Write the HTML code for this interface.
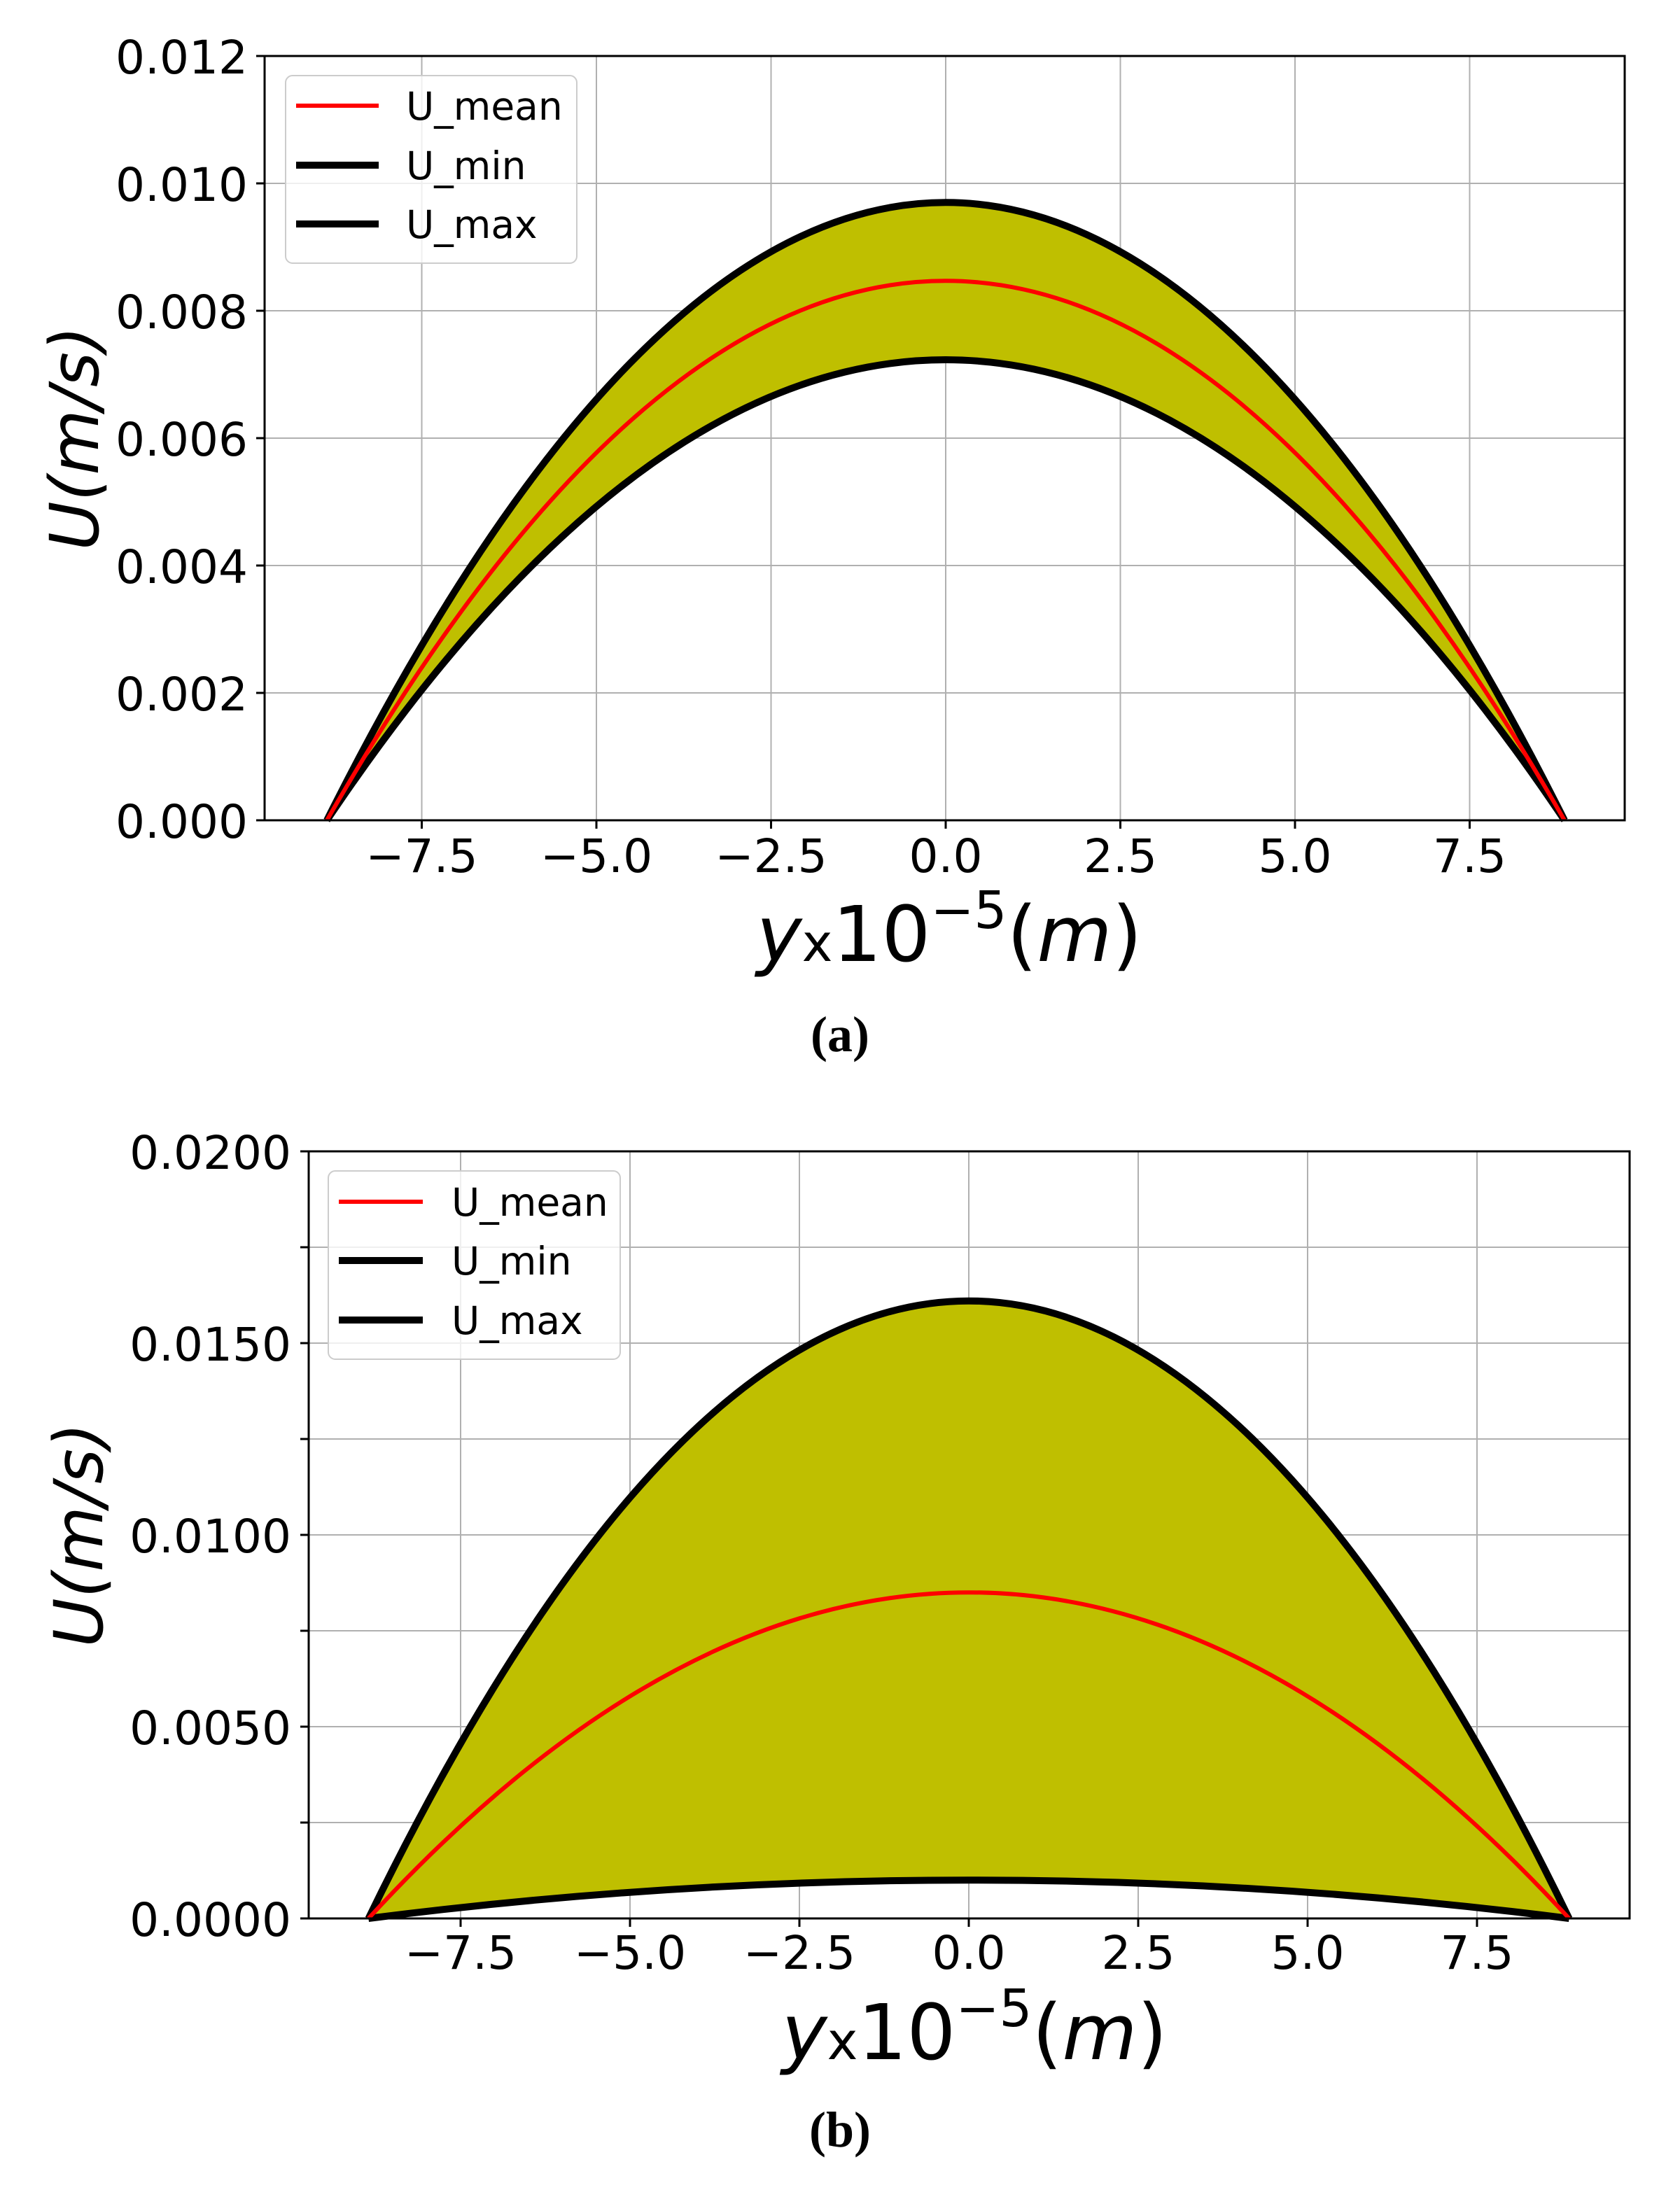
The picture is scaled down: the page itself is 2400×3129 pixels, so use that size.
<!DOCTYPE html>
<html><head><style>body{margin:0;background:#fff}svg{display:block}</style></head>
<body>
<svg width="2400" height="3129" viewBox="0 0 2400 3129" xmlns="http://www.w3.org/2000/svg" font-family="DejaVu Sans, Liberation Sans, sans-serif">
<rect width="2400" height="3129" fill="#fff"/>
<!-- TOP PANEL -->
<g stroke="#b0b0b0" stroke-width="2">
<line x1="602.5" y1="80" x2="602.5" y2="1172"/><line x1="852" y1="80" x2="852" y2="1172"/><line x1="1101.5" y1="80" x2="1101.5" y2="1172"/><line x1="1351" y1="80" x2="1351" y2="1172"/><line x1="1600.5" y1="80" x2="1600.5" y2="1172"/><line x1="1850" y1="80" x2="1850" y2="1172"/><line x1="2099.5" y1="80" x2="2099.5" y2="1172"/>
<line x1="378" y1="990" x2="2321" y2="990"/><line x1="378" y1="808" x2="2321" y2="808"/><line x1="378" y1="626" x2="2321" y2="626"/><line x1="378" y1="444" x2="2321" y2="444"/><line x1="378" y1="262" x2="2321" y2="262"/>
</g>
<path d="M467,1172 Q1351,-593.4 2235,1172 Q1351,-143.9 467,1172 Z" fill="#bfbf00"/>
<path d="M467,1172 Q1351,-593.4 2235,1172" fill="none" stroke="#000" stroke-width="10"/>
<path d="M467,1172 Q1351,-143.9 2235,1172" fill="none" stroke="#000" stroke-width="10"/>
<path d="M467,1172 Q1351,-369.5 2235,1172" fill="none" stroke="#f00" stroke-width="6"/>
<rect x="378" y="80" width="1943" height="1092" fill="none" stroke="#000" stroke-width="3"/>
<g stroke="#000" stroke-width="3">
<line x1="366" y1="80" x2="378" y2="80"/><line x1="366" y1="262" x2="378" y2="262"/><line x1="366" y1="444" x2="378" y2="444"/><line x1="366" y1="626" x2="378" y2="626"/><line x1="366" y1="808" x2="378" y2="808"/><line x1="366" y1="990" x2="378" y2="990"/><line x1="366" y1="1172" x2="378" y2="1172"/>
<line x1="602.5" y1="1172" x2="602.5" y2="1184"/><line x1="852" y1="1172" x2="852" y2="1184"/><line x1="1101.5" y1="1172" x2="1101.5" y2="1184"/><line x1="1351" y1="1172" x2="1351" y2="1184"/><line x1="1600.5" y1="1172" x2="1600.5" y2="1184"/><line x1="1850" y1="1172" x2="1850" y2="1184"/><line x1="2099.5" y1="1172" x2="2099.5" y2="1184"/>
</g>
<g font-size="66" text-anchor="end">
<text x="354" y="105">0.012</text><text x="354" y="287">0.010</text><text x="354" y="469">0.008</text><text x="354" y="651">0.006</text><text x="354" y="833">0.004</text><text x="354" y="1015">0.002</text><text x="354" y="1197">0.000</text>
</g>
<g font-size="66" text-anchor="middle">
<text x="602.5" y="1246">−7.5</text><text x="852" y="1246">−5.0</text><text x="1101.5" y="1246">−2.5</text><text x="1351" y="1246">0.0</text><text x="1600.5" y="1246">2.5</text><text x="1850" y="1246">5.0</text><text x="2099.5" y="1246">7.5</text>
</g>
<rect x="408" y="108" width="416" height="268" rx="10" fill="#fff" fill-opacity="0.8" stroke="#ccc" stroke-width="2"/>
<line x1="423" y1="151" x2="541" y2="151" stroke="#f00" stroke-width="6"/>
<line x1="423" y1="236" x2="541" y2="236" stroke="#000" stroke-width="10"/>
<line x1="423" y1="320" x2="541" y2="320" stroke="#000" stroke-width="10"/>
<g font-size="55"><text x="580" y="171">U_mean</text><text x="580" y="256">U_min</text><text x="580" y="340">U_max</text></g>
<text transform="translate(140,626) rotate(-90)" font-size="96" font-style="italic" text-anchor="middle">U(m/s)</text>
<text x="1356" y="1373" font-size="110" text-anchor="middle"><tspan font-style="italic">y</tspan><tspan font-size="74">x</tspan>10<tspan font-size="74" dy="-47">−5</tspan><tspan dy="47">(</tspan><tspan font-style="italic">m</tspan>)</text>
<text x="1200" y="1502" font-family="Liberation Serif, serif" font-weight="bold" font-size="72" text-anchor="middle">(a)</text>
<!-- BOTTOM PANEL -->
<g stroke="#b0b0b0" stroke-width="2">
<line x1="658" y1="1645" x2="658" y2="2741"/><line x1="900" y1="1645" x2="900" y2="2741"/><line x1="1142" y1="1645" x2="1142" y2="2741"/><line x1="1384" y1="1645" x2="1384" y2="2741"/><line x1="1626" y1="1645" x2="1626" y2="2741"/><line x1="1868" y1="1645" x2="1868" y2="2741"/><line x1="2110" y1="1645" x2="2110" y2="2741"/>
<line x1="441" y1="2604" x2="2328" y2="2604"/><line x1="441" y1="2467" x2="2328" y2="2467"/><line x1="441" y1="2330" x2="2328" y2="2330"/><line x1="441" y1="2193" x2="2328" y2="2193"/><line x1="441" y1="2056" x2="2328" y2="2056"/><line x1="441" y1="1919" x2="2328" y2="1919"/><line x1="441" y1="1782" x2="2328" y2="1782"/>
</g>
<path d="M526.4,2741 Q1384,976.4 2241.6,2741 Q1384,2631.4 526.4,2741 Z" fill="#bfbf00"/>
<path d="M526.4,2741 Q1384,976.4 2241.6,2741" fill="none" stroke="#000" stroke-width="10"/>
<path d="M526.4,2741 Q1384,2631.4 2241.6,2741" fill="none" stroke="#000" stroke-width="10"/>
<path d="M526.4,2741 Q1384,1809.4 2241.6,2741" fill="none" stroke="#f00" stroke-width="6"/>
<rect x="441" y="1645" width="1887" height="1096" fill="none" stroke="#000" stroke-width="3"/>
<g stroke="#000" stroke-width="3">
<line x1="429" y1="1645" x2="441" y2="1645"/><line x1="429" y1="1782" x2="441" y2="1782"/><line x1="429" y1="1919" x2="441" y2="1919"/><line x1="429" y1="2056" x2="441" y2="2056"/><line x1="429" y1="2193" x2="441" y2="2193"/><line x1="429" y1="2330" x2="441" y2="2330"/><line x1="429" y1="2467" x2="441" y2="2467"/><line x1="429" y1="2604" x2="441" y2="2604"/><line x1="429" y1="2741" x2="441" y2="2741"/>
<line x1="658" y1="2741" x2="658" y2="2753"/><line x1="900" y1="2741" x2="900" y2="2753"/><line x1="1142" y1="2741" x2="1142" y2="2753"/><line x1="1384" y1="2741" x2="1384" y2="2753"/><line x1="1626" y1="2741" x2="1626" y2="2753"/><line x1="1868" y1="2741" x2="1868" y2="2753"/><line x1="2110" y1="2741" x2="2110" y2="2753"/>
</g>
<g font-size="66" text-anchor="end">
<text x="416" y="1670">0.0200</text><text x="416" y="1944">0.0150</text><text x="416" y="2218">0.0100</text><text x="416" y="2492">0.0050</text><text x="416" y="2766">0.0000</text>
</g>
<g font-size="66" text-anchor="middle">
<text x="658" y="2813">−7.5</text><text x="900" y="2813">−5.0</text><text x="1142" y="2813">−2.5</text><text x="1384" y="2813">0.0</text><text x="1626" y="2813">2.5</text><text x="1868" y="2813">5.0</text><text x="2110" y="2813">7.5</text>
</g>
<rect x="469" y="1673" width="417" height="269" rx="10" fill="#fff" fill-opacity="0.8" stroke="#ccc" stroke-width="2"/>
<line x1="484" y1="1717" x2="604" y2="1717" stroke="#f00" stroke-width="6"/>
<line x1="484" y1="1801" x2="604" y2="1801" stroke="#000" stroke-width="10"/>
<line x1="484" y1="1886" x2="604" y2="1886" stroke="#000" stroke-width="10"/>
<g font-size="55"><text x="645" y="1737">U_mean</text><text x="645" y="1821">U_min</text><text x="645" y="1906">U_max</text></g>
<text transform="translate(146,2193) rotate(-90)" font-size="96" font-style="italic" text-anchor="middle">U(m/s)</text>
<text x="1392" y="2942" font-size="110" text-anchor="middle"><tspan font-style="italic">y</tspan><tspan font-size="74">x</tspan>10<tspan font-size="74" dy="-47">−5</tspan><tspan dy="47">(</tspan><tspan font-style="italic">m</tspan>)</text>
<text x="1200" y="3067" font-family="Liberation Serif, serif" font-weight="bold" font-size="72" text-anchor="middle">(b)</text>
</svg>
</body></html>
